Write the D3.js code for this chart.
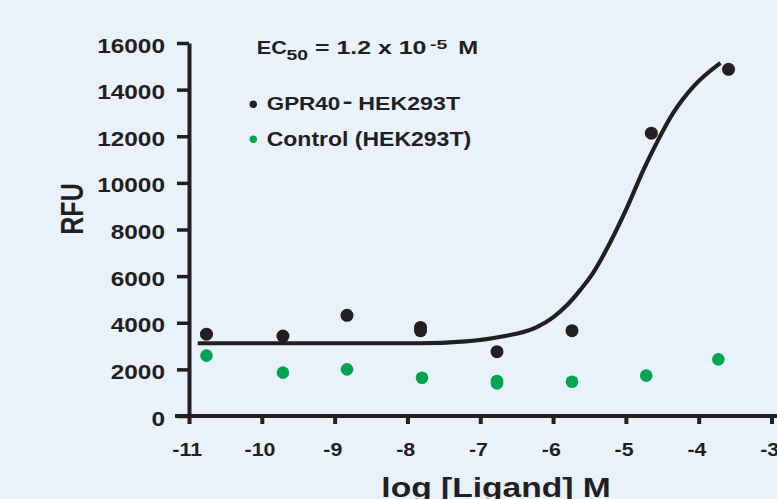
<!DOCTYPE html>
<html>
<head>
<meta charset="utf-8">
<script src="https://cdn.jsdelivr.net/npm/d3@7"></script>
<style>
  html, body { margin: 0; padding: 0; background: #e9f1fa; }
  svg { display: block; }
</style>
</head>
<body>
<div id="chart"></div>
<script>
// データ-------------------------------------------------------------------------------------
const xTicks = [-11, -10, -9, -8, -7, -6, -5, -4, -3];
const yTicks = [0, 2000, 4000, 6000, 8000, 10000, 12000, 14000, 16000];
// GPR40-HEK293T
const gprLog = [-10.76, -9.71, -8.83, -7.82, -7.82, -6.77, -5.74, -4.65, -3.59];
const gprRfu = [3510, 3430, 4320, 3800, 3660, 2760, 3660, 12130, 14870];
// Control (HEK293T)
const ctrlLog = [-10.76, -9.71, -8.83, -7.80, -6.77, -6.77, -5.74, -4.72, -3.73];
const ctrlRfu = [2590, 1860, 2000, 1640, 1500, 1400, 1470, 1730, 2430];
// フィット曲線 (読み取り点)
const fitLog = [-10.88, -9.48, -7.85, -7.20, -6.70, -6.23, -6.00, -5.80, -5.62, -5.45, -5.22, -4.98, -4.76, -4.57, -4.35, -4.08, -3.70];
const fitRfu = [3120, 3120, 3120, 3200, 3410, 3800, 4230, 4780, 5430, 6140, 7420, 8970, 10550, 11760, 13000, 14110, 15150];

const width = 777;
const height = 499;
const ink = '#231f20';
const green = '#00a551';
const font = '"Liberation Sans", Arial, Helvetica, sans-serif';

// SVG領域作成-----------------------------------------------------------------------------
const svg = d3.select('#chart').append('svg')
  .attr('width', width)
  .attr('height', height)
  .attr('font-family', font)
  .attr('font-weight', 'bold')
  .attr('fill', ink);

svg.append('rect')
  .attr('width', width)
  .attr('height', height)
  .attr('fill', '#e9f1fa');

// 横に伸ばした文字
function stretchText (g, px, py, str, size, sx, anchor) {
  return g.append('text')
    .attr('transform', `translate(${px},${py}) scale(${sx},1)`)
    .attr('font-size', size + 'px')
    .attr('text-anchor', anchor || 'start')
    .attr('fill', ink)
    .text(str);
}

// スケール-----------------------------------------------------------------------------------
const x = d3.scaleLinear().domain([-11, -3]).range([189, 771.5]);
const y = d3.scaleLinear().domain([0, 16000]).range([416, 43]);

// Y軸---------------------------------------------------------------------------------------
const yAxis = svg.append('g')
  .attr('transform', `translate(${x(-11)},0)`)
  .call(d3.axisLeft(y).tickValues(yTicks).tickSize(12).tickSizeOuter(0).tickFormat(d => String(d)));
yAxis.attr('font-family', font).attr('font-size', null);
yAxis.select('.domain').attr('stroke', ink).attr('stroke-width', 4);
yAxis.selectAll('.tick line').attr('stroke', ink).attr('stroke-width', 3.5);
yAxis.selectAll('.tick text')
  .attr('x', -24 / 1.22)
  .attr('dy', '0.45em')
  .attr('transform', 'scale(1.22,1)')
  .attr('font-size', '20px')
  .attr('fill', ink);

// X軸---------------------------------------------------------------------------------------
const xAxis = svg.append('g')
  .attr('transform', `translate(0,${y(0)})`)
  .call(d3.axisBottom(x).tickValues(xTicks).tickSize(8).tickSizeOuter(0).tickFormat(d => String(d)));
xAxis.attr('font-family', font).attr('font-size', null);
xAxis.select('.domain')
  .attr('d', `M${x(-11) - 14},0H${width}`)
  .attr('stroke', ink)
  .attr('stroke-width', 4);
xAxis.selectAll('.tick line').attr('stroke', ink).attr('stroke-width', 4);
xAxis.selectAll('.tick text')
  .attr('y', 40.5)
  .attr('dy', 0)
  .attr('x', -2)
  .attr('transform', 'scale(1.15,1)')
  .attr('font-size', '18.6px')
  .attr('fill', ink);

// 軸ラベル-----------------------------------------------------------------------------------
svg.append('text')
  .attr('transform', 'translate(83,209) scale(1.25,1) rotate(-90)')
  .attr('font-size', '25px')
  .attr('text-anchor', 'middle')
  .text('RFU');
stretchText(svg, 496, 497, 'log [Ligand] M', 28, 1.2, 'middle');

// フィット曲線-------------------------------------------------------------------------------
const line = d3.line()
  .x(d => x(d[0]))
  .y(d => y(d[1]))
  .curve(d3.curveMonotoneX);
svg.append('path')
  .datum(fitLog.map((v, i) => [v, fitRfu[i]]))
  .attr('d', line)
  .attr('fill', 'none')
  .attr('stroke', ink)
  .attr('stroke-width', 4.2);

// 散布点-------------------------------------------------------------------------------------
svg.selectAll('.ctrl-dot')
  .data(ctrlLog.map((v, i) => [v, ctrlRfu[i]]))
  .enter()
  .append('circle')
  .attr('class', 'ctrl-dot')
  .attr('cx', d => x(d[0]))
  .attr('cy', d => y(d[1]))
  .attr('r', 6.3)
  .attr('fill', green);
svg.selectAll('.gpr-dot')
  .data(gprLog.map((v, i) => [v, gprRfu[i]]))
  .enter()
  .append('circle')
  .attr('class', 'gpr-dot')
  .attr('cx', d => x(d[0]))
  .attr('cy', d => y(d[1]))
  .attr('r', 6.5)
  .attr('fill', ink);

// EC50 テキスト-------------------------------------------------------------------------------
stretchText(svg, 256.7, 54.3, 'EC', 19, 1.14);
stretchText(svg, 286.5, 60, '50', 14, 1.38);
stretchText(svg, 315, 54.3, '= 1.2 x 10', 19, 1.31);
stretchText(svg, 430, 49, '-5', 13, 1.5);
stretchText(svg, 458.3, 54.3, 'M', 19, 1.26);

// 凡例---------------------------------------------------------------------------------------
svg.append('circle').attr('cx', 253.3).attr('cy', 104.3).attr('r', 3.7).attr('fill', ink);
stretchText(svg, 266.7, 110, 'GPR40', 19, 1.18);
stretchText(svg, 342.5, 108, '-', 20, 1.5);
stretchText(svg, 358.3, 110, 'HEK293T', 19, 1.22);
svg.append('circle').attr('cx', 253.3).attr('cy', 139.3).attr('r', 3.7).attr('fill', green);
stretchText(svg, 266.7, 145.7, 'Control (HEK293T)', 19.5, 1.18);
</script>
</body>
</html>
